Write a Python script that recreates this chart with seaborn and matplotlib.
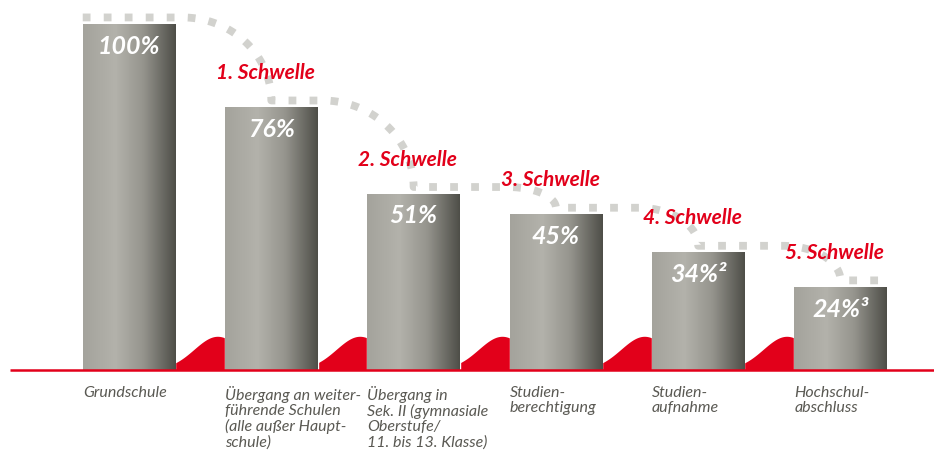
import numpy as np
import pandas as pd
import matplotlib
matplotlib.use("Agg")
import matplotlib.pyplot as plt
from matplotlib.colors import LinearSegmentedColormap
import seaborn as sns

# ---- data ----
categories = [
    "Grundschule",
    "Übergang an weiter-\nführende Schulen\n(alle außer Haupt-\nschule)",
    "Übergang in\nSek. II (gymnasiale\nOberstufe/\n11. bis 13. Klasse)",
    "Studien-\nberechtigung",
    "Studien-\naufnahme",
    "Hochschul-\nabschluss",
]
values = [100, 76, 51, 45, 34, 24]
value_labels = ["100%", "76%", "51%", "45%", "34%²", "24%³"]
thresholds = ["1. Schwelle", "2. Schwelle", "3. Schwelle", "4. Schwelle", "5. Schwelle"]

sns.set_style("white")
plt.rcParams["font.family"] = ["Lato", "DejaVu Sans"]

RED = "#e2001a"
fig = plt.figure(figsize=(9.34, 4.54), dpi=100)
ax = fig.add_axes([0, 0, 1, 1])

df = pd.DataFrame({"stage": categories, "value": values})
sns.barplot(data=df, x="stage", y="value", order=categories, width=0.65,
            color="#a9a8a1", saturation=1, ax=ax, zorder=2)

XL = (-129 / 142.3, (934 - 129) / 142.3)
YL = (-(454 - 370) / 3.46, 370 / 3.46)

# gradient fill of bars
cmap = LinearSegmentedColormap.from_list(
    "bar", [(0, "#a4a39c"), (0.35, "#b3b2ab"), (0.65, "#95948d"), (1, "#4e4e48")])
grad = np.linspace(0, 1, 256).reshape(1, -1)
for p in list(ax.patches):
    x0, y0 = p.get_xy()
    w, h = p.get_width(), p.get_height()
    im = ax.imshow(grad, cmap=cmap, extent=[x0, x0 + w, y0, y0 + h],
                   aspect="auto", zorder=2.5, interpolation="bicubic")
    im.set_clip_path(p)

# red waves between bars
xx = np.linspace(XL[0], XL[1], 3000)
yy = np.zeros_like(xx)
bw = 0.65
for i in range(1, len(values)):
    c = i - bw / 2 - 0.05
    yy += 9.6 * np.exp(-((xx - c) ** 2) / (2 * 0.165 ** 2))
ax.fill_between(xx, 0, yy, color=RED, lw=0, zorder=1)
ax.plot([-0.836, XL[1]], [0, 0], color=RED, lw=1.8, zorder=4, solid_capstyle="butt")

# dotted grey path along the bar tops
levels = [v + 1.9 for v in values]
px, py = [-bw / 2], [levels[0]]
for i in range(len(values) - 1):
    drop = levels[i] - levels[i + 1]
    wd = 0.25 + 0.0156 * drop
    xe = i + 1
    xs = xe - wd
    px.append(xs); py.append(levels[i])
    t = np.linspace(0, np.pi / 2, 40)
    px.extend(xs + wd * np.sin(t))
    py.extend(levels[i + 1] + drop * np.cos(t))
px.append(len(values) - 1 + bw / 2); py.append(levels[-1])
ax.plot(px, py, color="#d2d2ce", lw=5.6, dashes=(1.0, 1.7),
        dash_capstyle="butt", zorder=1.5)

# labels
for i, (v, lab) in enumerate(zip(values, value_labels)):
    ax.text(i, v - 6.4, lab, ha="center", va="center", color="white",
            fontsize=18, fontweight="bold", style="italic", zorder=6)
for i, t in enumerate(thresholds):
    ax.text(i + 1 - 0.04, values[i + 1] + 9.8, t, ha="center", va="center",
            color=RED, fontsize=15, fontweight="bold", style="italic", zorder=6)
for i, c in enumerate(categories):
    ax.text(i - bw / 2, -4.6, c, ha="left", va="top", color="#5a5953",
            fontsize=11.5, style="italic", linespacing=1.1, zorder=6)

ax.set_xlim(*XL)
ax.set_ylim(*YL)
ax.axis("off")
fig.savefig("out.png", dpi=100, facecolor="white")
